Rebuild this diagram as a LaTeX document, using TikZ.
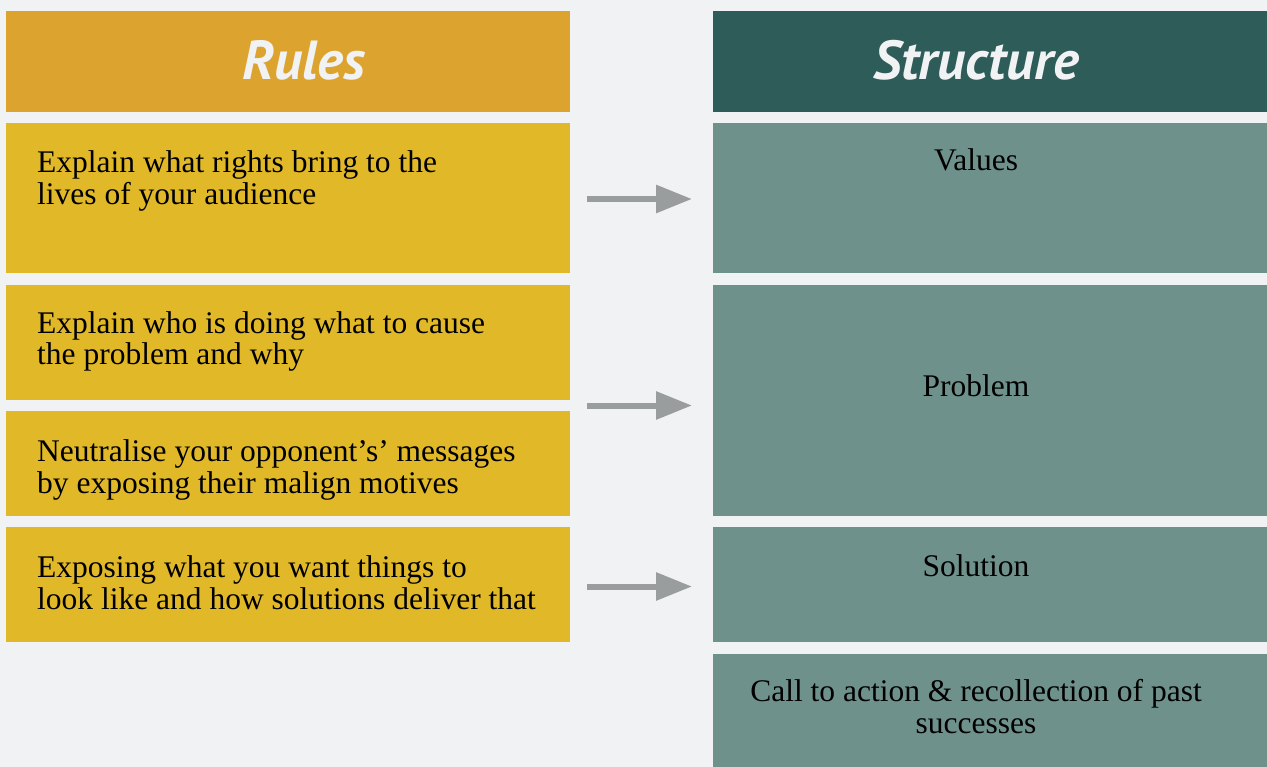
\documentclass[tikz,border=0pt]{standalone}
\usepackage{fontspec}
\setmainfont{Liberation Serif}
\newfontfamily\headfont{PT Sans}
\usetikzlibrary{arrows.meta,calc}
\definecolor{bgc}{HTML}{F1F2F4}
\definecolor{rulehead}{HTML}{DDA32F}
\definecolor{rulebox}{HTML}{E1B928}
\definecolor{structhead}{HTML}{2E5C58}
\definecolor{structbox}{HTML}{6F918B}
\definecolor{arrgray}{HTML}{9A9D9D}
\tikzset{
  blk/.style={rectangle, inner sep=0pt, outer sep=0pt, anchor=north west},
  rbox/.style={blk, fill=rulebox},
  sbox/.style={blk, fill=structbox},
  headtxt/.style={font=\headfont\bfseries\itshape\fontsize{55}{60}\selectfont, text=bgc, inner sep=0pt, anchor=base},
  bodytxt/.style={font=\fontsize{31.5}{32}\selectfont, text=black, inner sep=0pt, align=left, anchor=base west},
  ctxt/.style={font=\fontsize{31.5}{32}\selectfont, text=black, inner sep=0pt, align=center, anchor=base},
  arr/.style={draw=arrgray, line width=6pt, -{Triangle[length=36pt,width=27pt]}}
}
\begin{document}
\begin{tikzpicture}[x=1pt,y=-1pt]
\fill[bgc] (0,0) rectangle (1267,767);
\useasboundingbox (0,0) rectangle (1267,767);
% left column
\node[blk, fill=rulehead, minimum width=564pt, minimum height=101pt] (lh) at (6,11) {};
\node[rbox, minimum width=564pt, minimum height=150pt] (l1) at (6,123) {};
\node[rbox, minimum width=564pt, minimum height=115pt] (l2) at (6,285) {};
\node[rbox, minimum width=564pt, minimum height=105pt] (l3) at (6,411) {};
\node[rbox, minimum width=564pt, minimum height=115pt] (l4) at (6,527) {};
% right column
\node[blk, fill=structhead, minimum width=554pt, minimum height=101pt] (rh) at (713,11) {};
\node[sbox, minimum width=554pt, minimum height=150pt] (r1) at (713,123) {};
\node[sbox, minimum width=554pt, minimum height=231pt] (r2) at (713,285) {};
\node[sbox, minimum width=554pt, minimum height=115pt] (r3) at (713,527) {};
\node[sbox, minimum width=554pt, minimum height=113pt] (r4) at (713,654) {};
% headers
\node[headtxt] (lht) at (304,80) {Rules};
\node[headtxt] (rht) at (976,80) {Structure};
% left texts (anchor = baseline of last line)
\node[bodytxt] (t1) at (37,205) {Explain what rights bring to the\\lives of your audience};
\node[bodytxt] (t2) at (37,365) {Explain who is doing what to cause\\the problem and why};
\node[bodytxt] (t3) at (37,493) {Neutralise your opponent’s’ messages\\by exposing their malign motives};
\node[bodytxt] (t4) at (37,609) {Exposing what you want things to\\look like and how solutions deliver that};
% right texts
\node[ctxt] (s1) at (976,171) {Values};
\node[ctxt] (s2) at (976,396) {Problem};
\node[ctxt] (s3) at (976,576) {Solution};
\node[ctxt] (s4) at (976,733) {Call to action \& recollection of past\\successes};
% arrows
\coordinate (a1s) at ([xshift=17pt,yshift=-1pt]l1.east);
\coordinate (a1e) at ([xshift=-21pt,yshift=-1pt]r1.west);
\draw[arr] (a1s) -- (a1e);
\coordinate (m23) at ($(l2.south east)!0.5!(l3.north east)$);
\coordinate (a2s) at ([xshift=17pt]m23);
\coordinate (p2) at ([xshift=-21pt]r2.west);
\coordinate (a2e) at (m23 -| p2);
\draw[arr] (a2s) -- (a2e);
\coordinate (a3s) at ([xshift=17pt,yshift=-2pt]l4.east);
\coordinate (p3) at ([xshift=-21pt]r3.west);
\coordinate (a3e) at (a3s -| p3);
\draw[arr] (a3s) -- (a3e);
\end{tikzpicture}
\end{document}
